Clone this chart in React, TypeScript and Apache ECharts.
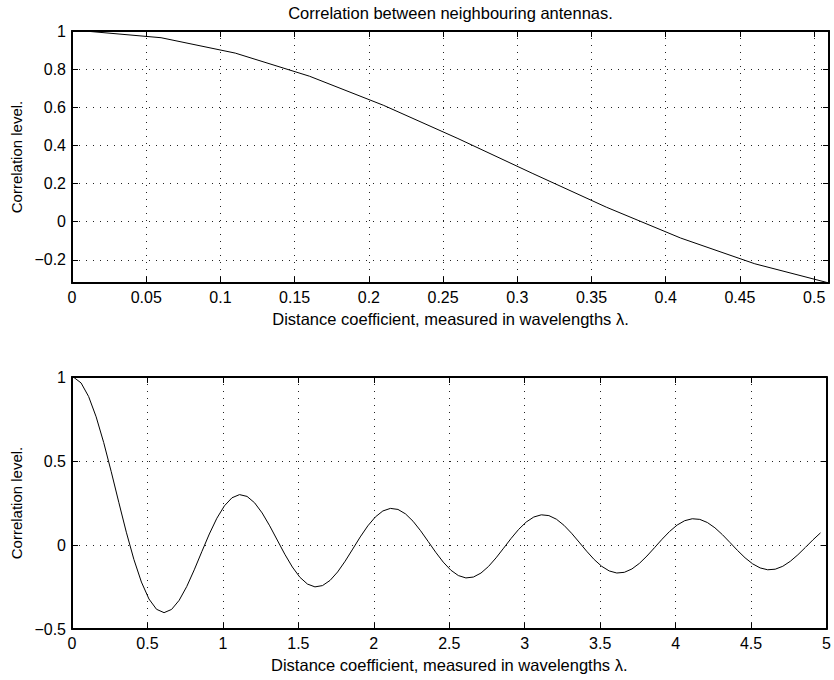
import React, { useEffect, useRef } from "react";
import * as echarts from "echarts";

// Distance coefficient (in wavelengths) – sample positions
const topDistance = [0, 0.01, 0.06, 0.11, 0.16, 0.21, 0.26, 0.31, 0.36, 0.41, 0.46, 0.51];
const topCorrelation = [1, 0.999, 0.9648, 0.8841, 0.7629, 0.6099, 0.4362, 0.2541, 0.0762, -0.0855, -0.2206, -0.3214];

const bottomDistance = [
  0, 0.01, 0.06, 0.11, 0.16, 0.21, 0.26, 0.31, 0.36, 0.41, 0.46,
  0.51, 0.56, 0.61, 0.66, 0.71, 0.76, 0.81, 0.86, 0.91, 0.96,
  1.01, 1.06, 1.11, 1.16, 1.21, 1.26, 1.31, 1.36, 1.41, 1.46,
  1.51, 1.56, 1.61, 1.66, 1.71, 1.76, 1.81, 1.86, 1.91, 1.96,
  2.01, 2.06, 2.11, 2.16, 2.21, 2.26, 2.31, 2.36, 2.41, 2.46,
  2.51, 2.56, 2.61, 2.66, 2.71, 2.76, 2.81, 2.86, 2.91, 2.96,
  3.01, 3.06, 3.11, 3.16, 3.21, 3.26, 3.31, 3.36, 3.41, 3.46,
  3.51, 3.56, 3.61, 3.66, 3.71, 3.76, 3.81, 3.86, 3.91, 3.96,
  4.01, 4.06, 4.11, 4.16, 4.21, 4.26, 4.31, 4.36, 4.41, 4.46,
  4.51, 4.56, 4.61, 4.66, 4.71, 4.76, 4.81, 4.86, 4.91, 4.96,
];
const bottomCorrelation = [
  1, 0.999, 0.9648, 0.8841, 0.7629, 0.6099, 0.4362, 0.2541, 0.0762, -0.0855, -0.2206,
  -0.3214, -0.3826, -0.4028, -0.3834, -0.3293, -0.2478, -0.1479, -0.04, 0.0656, 0.1594,
  0.2331, 0.281, 0.2999, 0.2892, 0.2512, 0.1907, 0.1142, 0.0296, -0.0548, -0.1309,
  -0.1919, -0.2324, -0.2493, -0.2416, -0.2108, -0.1606, -0.0963, -0.0244, 0.0479, 0.1137,
  0.1669, 0.2026, 0.2179, 0.2117, 0.1852, 0.1414, 0.0848, 0.0212, -0.0431, -0.1019,
  -0.1496, -0.1819, -0.196, -0.1907, -0.1671, -0.1277, -0.0766, -0.019, 0.0395, 0.0931,
  0.1368, 0.1665, 0.1796, 0.175, 0.1535, 0.1174, 0.0704, 0.0174, -0.0366, -0.0863,
  -0.1268, -0.1544, -0.1667, -0.1626, -0.1427, -0.1092, -0.0655, -0.0161, 0.0343, 0.0807,
  0.1187, 0.1447, 0.1562, 0.1525, 0.1339, 0.1025, 0.0615, 0.015, -0.0324, -0.0761,
  -0.112, -0.1365, -0.1475, -0.144, -0.1266, -0.0969, -0.0582, -0.0142, 0.0308, 0.0723,
];

// Tick labels
const topXTicks = [0, 0.05, 0.1, 0.15, 0.2, 0.25, 0.3, 0.35, 0.4, 0.45, 0.5];
const topYTicks = [-0.2, 0, 0.2, 0.4, 0.6, 0.8, 1];
const bottomXTicks = [0, 0.5, 1, 1.5, 2, 2.5, 3, 3.5, 4, 4.5, 5];
const bottomYTicks = [-0.5, 0, 0.5, 1];

const titleText = "Correlation between neighbouring antennas.";
const xName = "Distance coefficient, measured in wavelengths \u03bb.";
const yName = "Correlation level.";

const FONT = "'Liberation Sans', Arial, Helvetica, sans-serif";

const fmt = (v: number) => String(v).replace("-", "\u2212");

function makeAxes(
  gridIndex: number,
  xMin: number,
  xMax: number,
  xTicks: number[],
  yMin: number,
  yMax: number,
  yTicks: number[]
) {
  const frame = { show: true, onZero: false, lineStyle: { color: "#000", width: 2 } };
  const grid = { show: true, lineStyle: { color: "#222", width: 1, type: [1, 6] } };
  const tick = (vals: number[]) => ({
    show: true,
    inside: true,
    length: 6,
    customValues: vals,
    lineStyle: { color: "#000", width: 1 },
  });
  const xAxes = [
    {
      gridIndex,
      type: "value",
      position: "bottom",
      min: xMin,
      max: xMax,
      axisLine: frame,
      axisTick: tick(xTicks),
      axisLabel: {
        customValues: xTicks,
        formatter: fmt,
        color: "#000",
        fontFamily: FONT,
        fontSize: 16,
        margin: 6,
      },
      splitLine: grid,
      name: xName,
      nameLocation: "middle",
      nameGap: 27,
      nameTextStyle: { color: "#000", fontFamily: FONT, fontSize: 16.5 },
    },
    {
      gridIndex,
      type: "value",
      position: "top",
      min: xMin,
      max: xMax,
      axisLine: frame,
      axisTick: tick(xTicks),
      axisLabel: { show: false },
      splitLine: { show: false },
    },
  ];
  const yAxes = [
    {
      gridIndex,
      type: "value",
      position: "left",
      min: yMin,
      max: yMax,
      axisLine: frame,
      axisTick: tick(yTicks),
      axisLabel: {
        customValues: yTicks,
        formatter: fmt,
        color: "#000",
        fontFamily: FONT,
        fontSize: 16,
        margin: 6,
      },
      splitLine: grid,
      name: yName,
      nameLocation: "middle",
      nameGap: 41,
      nameTextStyle: { color: "#000", fontFamily: FONT, fontSize: 15 },
    },
    {
      gridIndex,
      type: "value",
      position: "right",
      min: yMin,
      max: yMax,
      axisLine: frame,
      axisTick: tick(yTicks),
      axisLabel: { show: false },
      splitLine: { show: false },
    },
  ];
  return { xAxes, yAxes };
}

export default function App() {
  const ref = useRef<HTMLDivElement>(null);

  useEffect(() => {
    if (!ref.current) return;
    const chart = echarts.init(ref.current, null, { renderer: "svg" });

    const top = makeAxes(0, 0, 0.51, topXTicks, -0.3214, 1, topYTicks);
    const bot = makeAxes(1, 0, 5, bottomXTicks, -0.5, 1, bottomYTicks);

    const topData = topDistance.map((d, i) => [d, topCorrelation[i]]);
    const botData = bottomDistance.map((d, i) => [d, bottomCorrelation[i]]);

    chart.setOption({
      animation: false,
      backgroundColor: "#fff",
      grid: [
        { left: 72, top: 31, width: 757, height: 252, containLabel: false },
        { left: 72, top: 377, width: 757, height: 252, containLabel: false },
      ],
      xAxis: [...top.xAxes, ...bot.xAxes],
      yAxis: [...top.yAxes, ...bot.yAxes],
      graphic: [
        {
          type: "text",
          x: 450.5,
          y: 4,
          style: {
            text: titleText,
            textAlign: "center",
            textVerticalAlign: "top",
            fill: "#000",
            fontFamily: FONT,
            fontSize: 16.5,
          },
        },
      ],
      series: [
        {
          type: "line",
          xAxisIndex: 0,
          yAxisIndex: 0,
          data: topData,
          showSymbol: false,
          symbol: "none",
          lineStyle: { color: "#000", width: 1 },
          z: 5,
        },
        {
          type: "line",
          xAxisIndex: 2,
          yAxisIndex: 2,
          data: botData,
          showSymbol: false,
          symbol: "none",
          lineStyle: { color: "#000", width: 1 },
          z: 5,
        },
      ],
    });

    return () => chart.dispose();
  }, []);

  return (
    <div
      ref={ref}
      style={{ position: "absolute", left: 0, top: 0, width: 834, height: 680, background: "#fff" }}
    />
  );
}
